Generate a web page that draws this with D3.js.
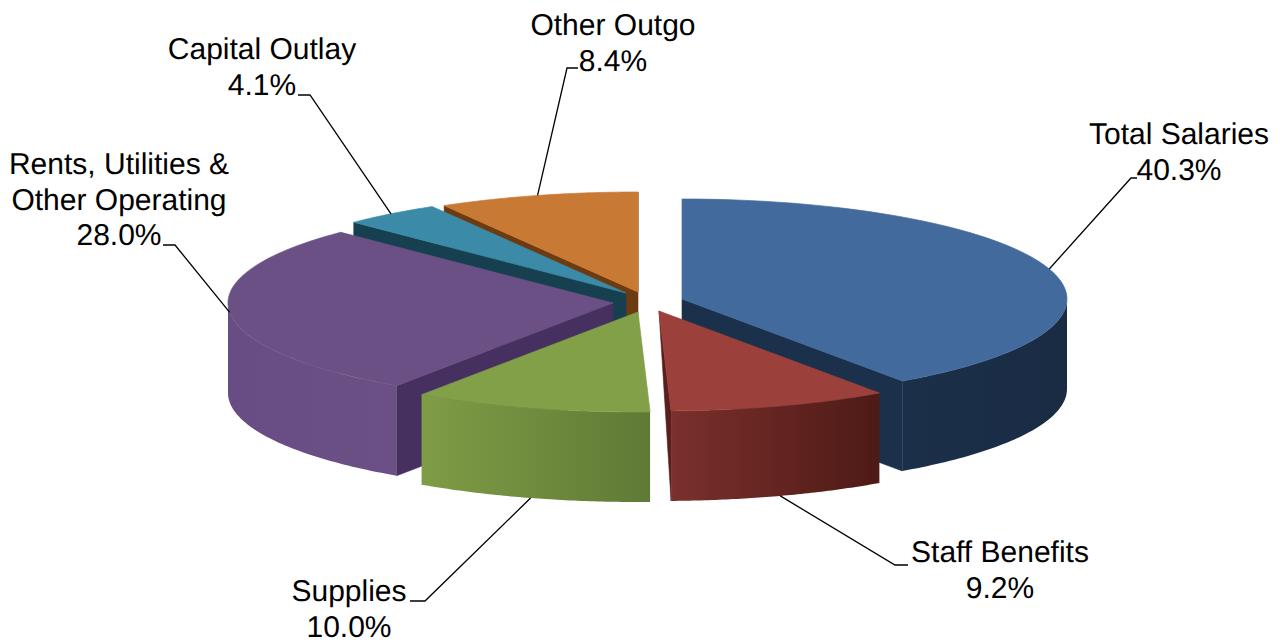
<!DOCTYPE html>
<html><head><meta charset="utf-8">
<script src="https://cdn.jsdelivr.net/npm/d3@7"></script>
<style>html,body{margin:0;padding:0;background:#fff}svg{display:block}
text{font-family:"Liberation Sans",Arial,sans-serif;font-size:30px;fill:#000;text-anchor:middle;text-rendering:geometricPrecision}</style>
</head><body><svg id="c" width="1283" height="643"></svg>
<script>
// data
const categories = ["Total Salaries","Staff Benefits","Supplies","Rents, Utilities & Other Operating","Capital Outlay","Other Outgo"];
const shares = [40.3,9.2,10.0,28.0,4.1,8.4];
const shareLabels = ["40.3%","9.2%","10.0%","28.0%","4.1%","8.4%"];
const labelLines = [["Total Salaries"],["Staff Benefits"],["Supplies"],["Rents, Utilities &","Other Operating"],["Capital Outlay"],["Other Outgo"]];

// styles / layout
const topColors  = ["#426a9c","#9c403c","#82a048","#6a5085","#3b8aa8","#c87a35"];
const sideStart  = ["#1b2f49","#7a302c","#7f9c46","#674d83","#1a4050","#6e3a10"];
const sideEnd    = ["#1a2c44","#4e1a16","#5f7a35","#6a5085","#1a4050","#6e3a10"];
const faceColors = ["#1a304b","#5a1f1c","#5f7a35","#46305f","#163f50","#6e3a10"];
const slicePivot = [[682,299],[659,311],[638,312],[613,303],[626,293],[638,292]];
const labelCentre = [[1179,144],[1000,562],[349,601],[119,174],[262,59],[613,35]];
const leaderElbow = [[1131,178],[895,565],[425,601],[175,245],[310,95],[567,68]];
const leaderStub  = [[1137,178],[908,565],[410,601],[163,245],[298,95],[578,68]];
const drawOrder = [5,4,0,3,1,2];
const rx = 385, ry = 100, depth = 90, lineGap = 35.5;

const svg = d3.select("#c");
const defs = svg.append("defs");
const arcs = d3.pie().sort(null).value(d=>d).startAngle(0).endAngle(2*Math.PI)(shares);
const sx = d3.scaleLinear().domain([-1,1]).range([-rx,rx]);
const sy = d3.scaleLinear().domain([-1,1]).range([-ry,ry]);
const rim = (p,a,h=0)=>[p[0]+sx(Math.sin(a)), p[1]-sy(Math.cos(a))+h];
const line = d3.line();
const samples = (a0,a1)=>d3.range(0,61).map(i=>a0+(a1-a0)*i/60);

categories.forEach((c,i)=>{
  const g = defs.append("linearGradient").attr("id","side"+i).attr("x1",0).attr("x2",1).attr("y1",0).attr("y2",0);
  g.append("stop").attr("offset",0).attr("stop-color",sideStart[i]);
  g.append("stop").attr("offset",1).attr("stop-color",sideEnd[i]);
});

drawOrder.forEach(i=>{
  const d = arcs[i], p = slicePivot[i], g = svg.append("g");
  const a0=d.startAngle, a1=d.endAngle;
  // visible cut faces
  const face = (a,normal)=>{
    const taper = Math.abs(Math.cos(normal))<0.2;
    const pts = taper ? [p,rim(p,a),rim(p,a,depth)] : [p,rim(p,a),rim(p,a,depth),[p[0],p[1]+depth]];
    g.append("path").attr("d",line(pts)+"Z").attr("fill",faceColors[i]).attr("stroke",faceColors[i]).attr("stroke-width",0.6);
  };
  if(Math.cos(a0-Math.PI/2)<0) face(a0,a0-Math.PI/2);
  if(Math.cos(a1+Math.PI/2)<0) face(a1,a1+Math.PI/2);
  // outer wall (front half only)
  const wa0=Math.max(a0,Math.PI/2), wa1=Math.min(a1,3*Math.PI/2);
  if(wa1>wa0){
    const s=samples(wa0,wa1);
    const pts=s.map(a=>rim(p,a)).concat(s.slice().reverse().map(a=>rim(p,a,depth)));
    g.append("path").attr("d",line(pts)+"Z").attr("fill","url(#side"+i+")");
  }
  // top
  const s=samples(a0,a1);
  g.append("path").attr("d",line([p].concat(s.map(a=>rim(p,a))))+"Z")
    .attr("fill",topColors[i]).attr("stroke",topColors[i]).attr("stroke-width",0.7).attr("stroke-linejoin","round");
});

// leaders and labels
categories.forEach((c,i)=>{
  const d=arcs[i], mid=(d.startAngle+d.endAngle)/2;
  const front=Math.cos(mid)<-0.5;
  const start=rim(slicePivot[i],mid,front?depth:0);
  svg.append("path").attr("d",line([start,leaderElbow[i],leaderStub[i]]))
    .attr("fill","none").attr("stroke","#000").attr("stroke-width",1.3);
  const [x,y]=labelCentre[i];
  const lines=labelLines[i].concat([shareLabels[i]]);
  const t=svg.append("text");
  lines.forEach((l,k)=>t.append("tspan").attr("x",x).attr("y",y+k*lineGap).text(l));
});
</script></body></html>
